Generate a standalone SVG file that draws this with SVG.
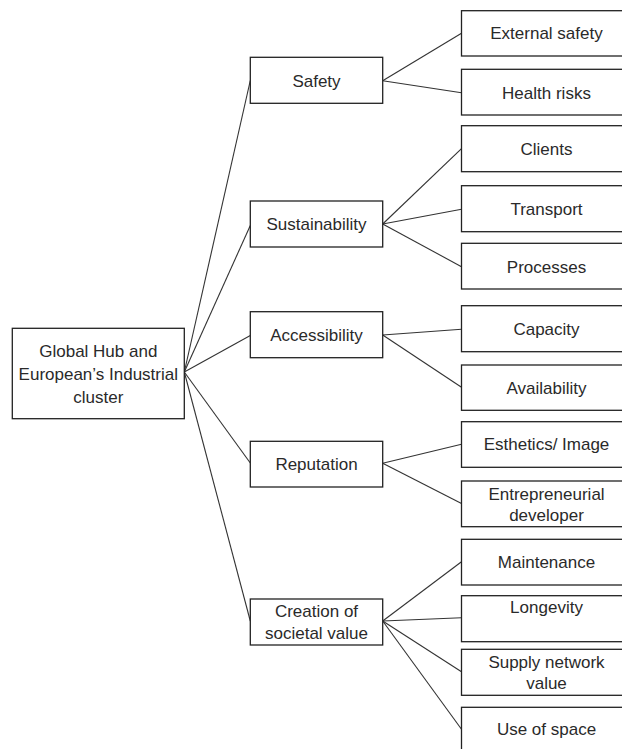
<svg xmlns="http://www.w3.org/2000/svg" width="622" height="749" viewBox="0 0 622 749">
<style>
rect{fill:#fff;stroke:#222;stroke-width:1.3}
text{font-family:"Liberation Sans",Arial,sans-serif;font-size:17px;fill:#2a2a2a;text-anchor:middle}
#connectors line{stroke:#333;stroke-width:1.1}
</style>
<rect x="0" y="0" width="622" height="749" style="fill:#fff;stroke:none"/>
<g id="connectors">
<line x1="184.3" y1="372" x2="250.3" y2="80.5"/>
<line x1="184.3" y1="372" x2="250.3" y2="225.5"/>
<line x1="184.3" y1="372" x2="250.3" y2="335.5"/>
<line x1="184.3" y1="372" x2="250.3" y2="463"/>
<line x1="184.3" y1="372" x2="250.3" y2="621"/>
<line x1="382.7" y1="80.7" x2="461.5" y2="33.3"/>
<line x1="382.7" y1="80.7" x2="461.5" y2="92.7"/>
<line x1="382.7" y1="224" x2="461.5" y2="148.7"/>
<line x1="382.7" y1="224" x2="461.5" y2="209.3"/>
<line x1="382.7" y1="224" x2="461.5" y2="266.7"/>
<line x1="382.7" y1="335" x2="461.5" y2="329.3"/>
<line x1="382.7" y1="335" x2="461.5" y2="387.3"/>
<line x1="382.7" y1="463.3" x2="461.5" y2="444.3"/>
<line x1="382.7" y1="463.3" x2="461.5" y2="503.5"/>
<line x1="382.7" y1="621" x2="461.5" y2="561.7"/>
<line x1="382.7" y1="621" x2="461.5" y2="617.7"/>
<line x1="382.7" y1="621" x2="461.5" y2="671.7"/>
<line x1="382.7" y1="621" x2="461.5" y2="729.3"/>
</g>
<g id="root"><rect x="12.3" y="328.3" width="172" height="90.4"/><text x="98.3" y="357">Global Hub and</text><text x="98.3" y="379.5">European’s Industrial</text><text x="98.3" y="402.5">cluster</text></g>
<g id="safety"><rect x="250.3" y="57.3" width="132.4" height="46"/><text x="316.5" y="86.5">Safety</text></g>
<g id="sustainability"><rect x="250.3" y="201" width="132.4" height="46"/><text x="316.5" y="230">Sustainability</text></g>
<g id="accessibility"><rect x="250.3" y="311.7" width="132.4" height="46"/><text x="316.5" y="341">Accessibility</text></g>
<g id="reputation"><rect x="250.3" y="441.3" width="132.4" height="45.7"/><text x="316.5" y="470">Reputation</text></g>
<g id="creation"><rect x="250.3" y="599" width="132.4" height="46"/><text x="316.5" y="617">Creation of</text><text x="316.5" y="639">societal value</text></g>
<g id="external-safety"><rect x="461.5" y="10.7" width="170" height="45.3"/><text x="546.5" y="39.3">External safety</text></g>
<g id="health-risks"><rect x="461.5" y="69.3" width="170" height="45.7"/><text x="546.5" y="98.7">Health risks</text></g>
<g id="clients"><rect x="461.5" y="125.7" width="170" height="46"/><text x="546.5" y="155">Clients</text></g>
<g id="transport"><rect x="461.5" y="185.7" width="170" height="46"/><text x="546.5" y="215.3">Transport</text></g>
<g id="processes"><rect x="461.5" y="243.3" width="170" height="45.7"/><text x="546.5" y="272.7">Processes</text></g>
<g id="capacity"><rect x="461.5" y="305.7" width="170" height="46"/><text x="546.5" y="335.3">Capacity</text></g>
<g id="availability"><rect x="461.5" y="365" width="170" height="45.3"/><text x="546.5" y="394">Availability</text></g>
<g id="esthetics"><rect x="461.5" y="421.7" width="170" height="45.6"/><text x="546.5" y="450.3">Esthetics/ Image</text></g>
<g id="entrepreneurial"><rect x="461.5" y="481" width="170" height="45.7"/><text x="546.5" y="499.5">Entrepreneurial</text><text x="546.5" y="521">developer</text></g>
<g id="maintenance"><rect x="461.5" y="539.3" width="170" height="45.7"/><text x="546.5" y="567.7">Maintenance</text></g>
<g id="longevity"><rect x="461.5" y="595.7" width="170" height="46"/><text x="546.5" y="612.7">Longevity</text></g>
<g id="supply"><rect x="461.5" y="649.3" width="170" height="46"/><text x="546.5" y="667.7">Supply network</text><text x="546.5" y="689.3">value</text></g>
<g id="use-of-space"><rect x="461.5" y="707.3" width="170" height="46"/><text x="546.5" y="735.3">Use of space</text></g>
</svg>
